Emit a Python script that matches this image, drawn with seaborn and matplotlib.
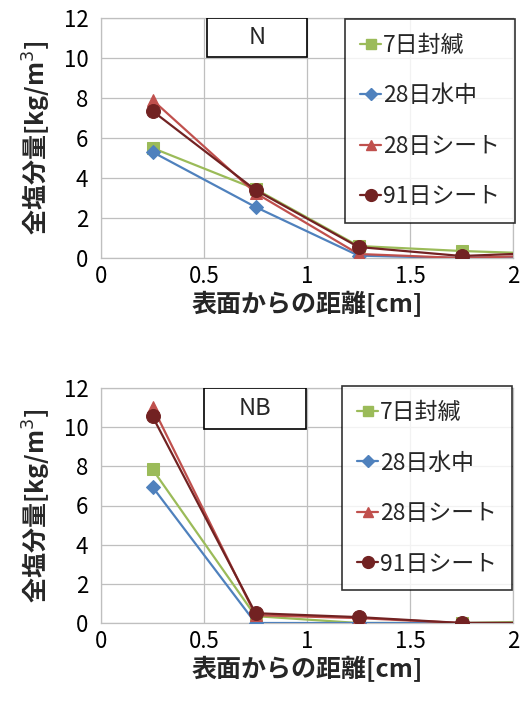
import numpy as np
import pandas as pd
import matplotlib
matplotlib.use("Agg")
import matplotlib.pyplot as plt
import seaborn as sns
from matplotlib.patches import Rectangle
from matplotlib.lines import Line2D

sns.set_theme(style="white")
plt.rcParams['font.family'] = ['Noto Sans CJK JP', 'DejaVu Sans']

# ---- data ----
depth = [0.25, 0.75, 1.25, 1.75, 2.25]
series = ["7日封緘", "28日水中", "28日シート", "91日シート"]

N_7d_seal = [5.5, 3.45, 0.6, 0.35, 0.18]
N_28d_water = [5.3, 2.55, 0.12, 0.0, 0.1]
N_28d_sheet = [7.9, 3.25, 0.2, 0.0, 0.15]
N_91d_sheet = [7.35, 3.4, 0.55, 0.1, 0.3]

NB_7d_seal = [7.85, 0.35, 0.0, 0.0, 0.1]
NB_28d_water = [6.95, 0.0, 0.0, 0.0, 0.0]
NB_28d_sheet = [11.05, 0.4, 0.25, 0.0, 0.0]
NB_91d_sheet = [10.55, 0.5, 0.3, 0.0, 0.0]

panel_names = ["N", "NB"]
x_ticks = [0, 0.5, 1, 1.5, 2]
x_tick_labels = ["0", "0.5", "1", "1.5", "2"]
y_ticks = [0, 2, 4, 6, 8, 10, 12]
y_label = "全塩分量[kg/m$^3$]"
x_label = "表面からの距離[cm]"

colors = ["#9BBB59", "#4F81BD", "#C0504D", "#722222"]
markers = ["s", "D", "^", "o"]
msizes = [8, 7, 9, 10]


def make_df(vals):
    rows = []
    for s, v in zip(series, vals):
        for x, y in zip(depth, v):
            rows.append({"x": x, "y": y, "series": s})
    return pd.DataFrame(rows)


dfs = [make_df([N_7d_seal, N_28d_water, N_28d_sheet, N_91d_sheet]),
       make_df([NB_7d_seal, NB_28d_water, NB_28d_sheet, NB_91d_sheet])]

fig = plt.figure(figsize=(5.27, 7.10), dpi=100)
ax_pos = [
    [101 / 527, (710 - 258) / 710, 412 / 527, 240 / 710],
    [101 / 527, (710 - 623) / 710, 412 / 527, 235 / 710],
]
label_boxes = [
    (0.257, 0.8375, 0.243, 0.1625),
    (0.25, 0.8255, 0.2476, 0.1745),
]
legend_anchor = [(1.005, 0.996), (0.998, 1.008)]

for i, (df, pos) in enumerate(zip(dfs, ax_pos)):
    ax = fig.add_axes(pos)
    for s, c, m, ms in zip(series, colors, markers, msizes):
        sub = df[df["series"] == s]
        sns.lineplot(data=sub, x="x", y="y", ax=ax, color=c, marker=m,
                     markersize=ms, markeredgecolor=c, linewidth=1.6,
                     legend=False, zorder=3)
    ax.set_xlim(0, 2)
    ax.set_ylim(0, 12)
    ax.set_xticks(x_ticks)
    ax.set_xticklabels(x_tick_labels)
    ax.set_yticks(y_ticks)
    ax.grid(True, color="#BFBFBF", linewidth=0.9)
    for sp in ax.spines.values():
        sp.set_color("#BFBFBF")
        sp.set_linewidth(0.9)
    ax.tick_params(axis="both", length=0, labelsize=16, colors="black")
    ax.tick_params(axis="y", pad=9)
    ax.tick_params(axis="x", pad=5)
    ax.set_xlabel(x_label, fontsize=18, fontweight="bold", labelpad=2)
    ax.set_ylabel(y_label, fontsize=18, fontweight="bold", labelpad=8)

    bx, by, bw, bh = label_boxes[i]
    ax.add_patch(Rectangle((bx, by), bw, bh, transform=ax.transAxes,
                           facecolor="white", edgecolor="black",
                           linewidth=1.2, zorder=5))
    ax.text(bx + bw / 2, by + bh / 2, panel_names[i], transform=ax.transAxes,
            ha="center", va="center", fontsize=17, zorder=6)

    handles = [Line2D([0], [0], color=c, marker=m, markersize=ms * 0.85,
                      markeredgecolor=c, linewidth=1.6)
               for c, m, ms in zip(colors, markers, msizes)]
    leg = ax.legend(handles, series, loc="upper right",
                    bbox_to_anchor=legend_anchor[i], borderaxespad=0,
                    prop={"size": 16.5}, frameon=True, fancybox=False,
                    handlelength=0.9, handletextpad=0.1, labelspacing=1.2,
                    borderpad=0.65)
    leg.get_frame().set_edgecolor("black")
    leg.get_frame().set_linewidth(1.2)
    leg.set_zorder(10)

fig.savefig("out.png", dpi=100)
